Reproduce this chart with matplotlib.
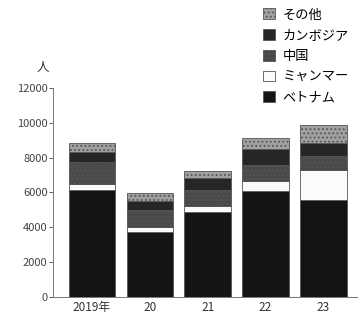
import matplotlib
matplotlib.use("Agg")
from matplotlib import pyplot as plt
from matplotlib.patches import Patch
import numpy as np

plt.rcParams['font.family'] = ['Noto Sans CJK JP', 'DejaVu Sans']
plt.rcParams['hatch.color'] = "#777777"
plt.rcParams['hatch.linewidth'] = 0.8

years = ["2019年", "20", "21", "22", "23"]
vietnam = [6150, 3750, 4850, 6100, 5550]
myanmar = [350, 270, 350, 540, 1750]
china = [1250, 970, 950, 960, 780]
cambodia = [550, 540, 690, 890, 770]
others = [550, 420, 390, 660, 1050]

series = [
    ("ベトナム", vietnam, "#141414", None),
    ("ミャンマー", myanmar, "#fbfbfb", None),
    ("中国", china, "#4a4a4a", "...."),
    ("カンボジア", cambodia, "#262626", None),
    ("その他", others, "#a0a0a0", "...."),
]

fig = plt.figure(figsize=(3.61, 3.21), dpi=100)
ax = fig.add_axes([0.147, 0.075, 0.842, 0.651])

x = np.arange(len(years))
bottom = np.zeros(len(years))
handles = []
for name, vals, color, hatch in series:
    ax.bar(x, vals, 0.8, bottom=bottom, color=color, edgecolor="#555555",
           linewidth=0.6, hatch=hatch)
    bottom += np.array(vals)
    handles.append(Patch(facecolor=color, edgecolor="#555555", linewidth=0.6,
                         hatch=hatch, label=name))

ax.set_xlim(-0.67, 4.58)
ax.set_ylim(0, 12000)
ax.set_yticks(range(0, 12001, 2000))
ax.set_xticks(x)
ax.set_xticklabels(years)
ax.tick_params(axis="y", length=3, width=0.6, colors="#444444", labelsize=8, pad=1)
ax.tick_params(axis="x", length=0, labelsize=8.5, colors="#333333", pad=3)
for s in ["top", "right"]:
    ax.spines[s].set_visible(False)
for s in ["left", "bottom"]:
    ax.spines[s].set_color("#777777")
    ax.spines[s].set_linewidth(0.7)

fig.text(0.12, 0.79, "人", fontsize=9, color="#333333", ha="center", va="center")

fig.legend(handles=handles[::-1], loc="upper left", bbox_to_anchor=(0.715, 0.99),
           frameon=False, fontsize=9.5, handlelength=0.9, handleheight=0.9,
           handletextpad=0.55, labelspacing=0.58, borderaxespad=0)

fig.savefig("out.png", dpi=100)
